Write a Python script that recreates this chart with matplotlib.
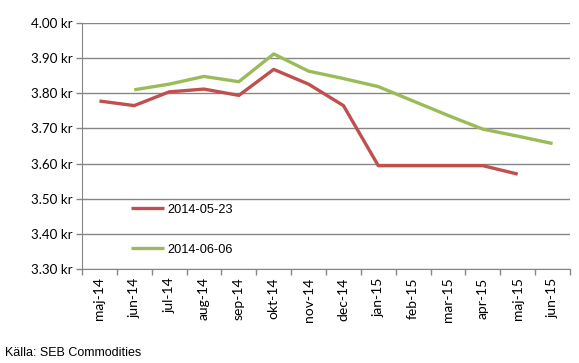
import matplotlib.pyplot as plt
import numpy as np

# months on the x axis
months = ['maj-14', 'jun-14', 'jul-14', 'aug-14', 'sep-14', 'okt-14', 'nov-14',
          'dec-14', 'jan-15', 'feb-15', 'mar-15', 'apr-15', 'maj-15', 'jun-15']

# forward prices, kr
red_label = '2014-05-23'
red_vals = [3.778, 3.765, 3.804, 3.812, 3.794, 3.868, 3.826,
            3.765, 3.594, 3.594, 3.594, 3.594, 3.570, np.nan]

green_label = '2014-06-06'
green_vals = [np.nan, 3.810, 3.826, 3.848, 3.833, 3.912, 3.863,
              3.842, 3.819, 3.778, 3.737, 3.698, 3.678, 3.657]

yticks = [3.30, 3.40, 3.50, 3.60, 3.70, 3.80, 3.90, 4.00]

fig = plt.figure(figsize=(5.79, 3.63), dpi=100)
ax = fig.add_axes([0.1416, 0.259, 0.8429, 0.6776])

x = np.arange(len(months))
ax.plot(x, red_vals, color='#C0504D', lw=2.4, label=red_label, solid_capstyle='butt')
ax.plot(x, green_vals, color='#9BBB59', lw=2.4, label=green_label, solid_capstyle='butt')

ax.set_xlim(-0.5, len(months) - 0.5)
ax.set_ylim(3.30, 4.00)
ax.set_yticks(yticks)
ax.set_yticklabels(['%.2f kr' % v for v in yticks], fontsize=9.6, family='Lato')
ax.yaxis.grid(True, color='#868686', lw=1)
ax.set_axisbelow(True)

# category labels at centres, tick marks at boundaries
ax.set_xticks(x)
ax.set_xticklabels(months, rotation=90, fontsize=10, family='Lato')
ax.tick_params(axis='x', length=0, pad=6)
ax.set_xticks(np.arange(len(months) + 1) - 0.5, minor=True)
ax.tick_params(axis='x', which='minor', length=4, color='#868686', width=1)
ax.tick_params(axis='y', length=4, color='#868686', width=1, pad=3)

for s in ['top', 'right']:
    ax.spines[s].set_visible(False)
for s in ['left', 'bottom']:
    ax.spines[s].set_color('#868686')

leg = ax.legend(loc='upper left', bbox_to_anchor=(0.100, 0.266), frameon=False,
                handlelength=2.6, handletextpad=0.25, labelspacing=2.2,
                borderpad=0, borderaxespad=0,
                prop={'family': 'Liberation Sans', 'size': 9.2})

fig.text(0.008, 0.02, 'Källa: SEB Commodities', fontsize=9, family='Liberation Sans')

fig.savefig('out.png', dpi=100)
